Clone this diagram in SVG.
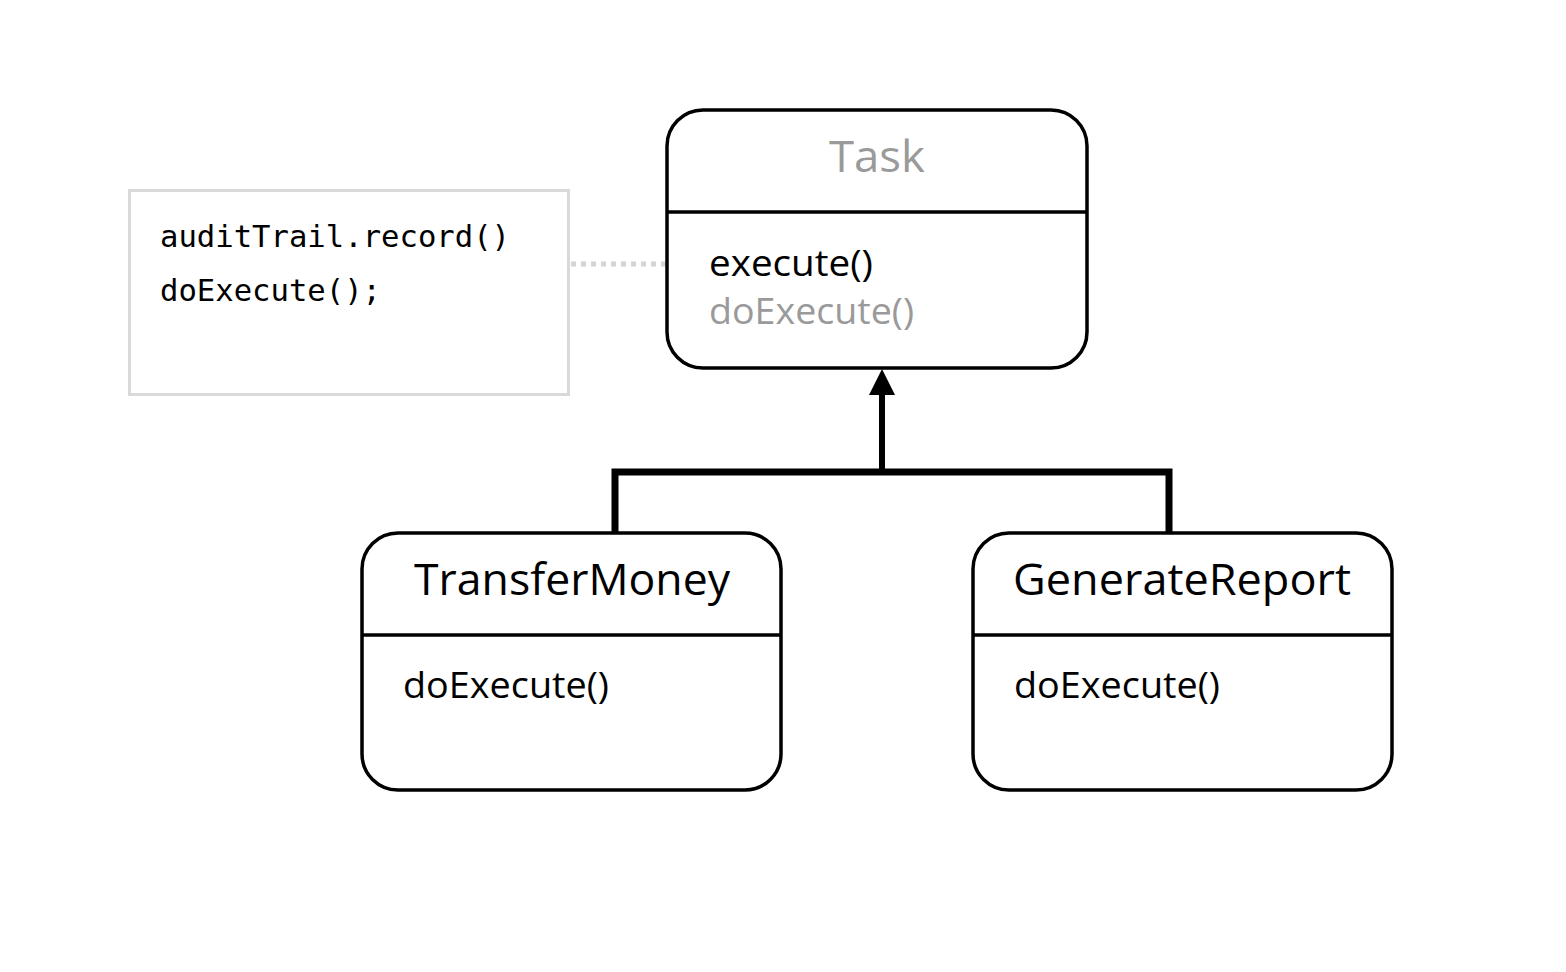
<svg xmlns="http://www.w3.org/2000/svg" width="1566" height="972" viewBox="0 0 1566 972">
<defs>
<style>
.box{fill:#fff;stroke:#000;stroke-width:3.5}
.div{stroke:#000;stroke-width:3.5}
.title{font-family:"Open Sans","Liberation Sans",sans-serif;font-size:44px;text-anchor:middle}
.meth{font-family:"Open Sans","Liberation Sans",sans-serif;font-size:37px}
.mono{font-family:"DejaVu Sans Mono","Liberation Mono",monospace;font-size:30px;fill:#000}
.gray{fill:#9a9a9a}
.blk{fill:#000}
</style>
<marker id="arr" markerWidth="28" markerHeight="28" viewBox="0 0 28 28" refX="14" refY="1" orient="auto" markerUnits="userSpaceOnUse">
<path d="M14 0 L27 26 L1 26 Z" fill="#000"/>
</marker>
</defs>
<rect width="1566" height="972" fill="#fff"/>
<g id="connectors">
<line x1="571" y1="264" x2="666" y2="264" stroke="#d4d4d4" stroke-width="5" stroke-dasharray="5 5"/>
<path d="M615 532 V472 H1169 V532" fill="none" stroke="#000" stroke-width="7"/>
<line x1="882" y1="472" x2="882" y2="394" stroke="#000" stroke-width="6"/>
<path d="M882 369 L895 395 L869 395 Z" fill="#000"/>
</g>
<g id="note">
<rect x="129.5" y="190.5" width="439" height="204" fill="#fff" stroke="#d9d9d9" stroke-width="3"/>
<text class="mono" x="160" y="247" textLength="350" lengthAdjust="spacingAndGlyphs">auditTrail.record()</text>
<text class="mono" x="160" y="301" textLength="221" lengthAdjust="spacingAndGlyphs">doExecute();</text>
</g>
<g id="task">
<rect class="box" x="667" y="110" width="420" height="258" rx="36"/>
<line class="div" x1="667" y1="212" x2="1087" y2="212"/>
<text class="title gray" x="877" y="172" textLength="96" lengthAdjust="spacingAndGlyphs">Task</text>
<text class="meth blk" x="709" y="276" textLength="164" lengthAdjust="spacingAndGlyphs">execute()</text>
<text class="meth gray" x="709" y="324" textLength="205" lengthAdjust="spacingAndGlyphs">doExecute()</text>
</g>
<g id="transfermoney">
<rect class="box" x="362" y="533" width="419" height="257" rx="36"/>
<line class="div" x1="362" y1="635" x2="781" y2="635"/>
<text class="title blk" x="572" y="595" textLength="316" lengthAdjust="spacingAndGlyphs">TransferMoney</text>
<text class="meth blk" x="403" y="698" textLength="206" lengthAdjust="spacingAndGlyphs">doExecute()</text>
</g>
<g id="generatereport">
<rect class="box" x="973" y="533" width="419" height="257" rx="36"/>
<line class="div" x1="973" y1="635" x2="1392" y2="635"/>
<text class="title blk" x="1182" y="595" textLength="338" lengthAdjust="spacingAndGlyphs">GenerateReport</text>
<text class="meth blk" x="1014" y="698" textLength="206" lengthAdjust="spacingAndGlyphs">doExecute()</text>
</g>
</svg>
